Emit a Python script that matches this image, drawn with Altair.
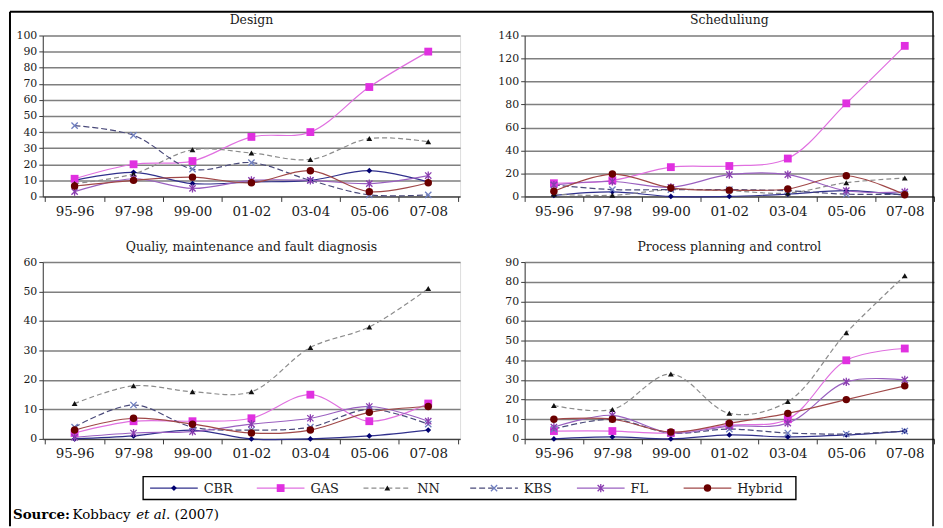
import altair as alt
import pandas as pd

periods = ["95-96", "97-98", "99-00", "01-02", "03-04", "05-06", "07-08"]
series_names = ["CBR", "GAS", "NN", "KBS", "FL", "Hybrid"]

# Design
design_cbr = [10, 15, 8, 9, 10, 16, 9]
design_gas = [11, 20, 22, 37, 40, 68, 90]
design_nn = [8, 14, 29, 27, 23, 36, 34]
design_kbs = [44, 38, 17, 21, 10, 1, 1]
design_fl = [3, 11, 5, 10, 10, 8, 13]
design_hybrid = [6.5, 10, 12, 8.5, 16, 3, 8.5]
design_ticks = [0, 10, 20, 30, 40, 50, 60, 70, 80, 90, 100]

# Scheduling
sched_cbr = [1, 4, 0, 0, 2, 5, 1]
sched_gas = [11.5, 14, 25.5, 26.5, 33, 81, 131]
sched_nn = [2, 1, 6, 5, 3, 12, 16]
sched_kbs = [10, 6, 6, 6, 5, 2, 2]
sched_fl = [10, 13, 8, 19, 19, 5, 4]
sched_hybrid = [4.5, 19.5, 7.5, 5.5, 6.5, 18, 1.5]
sched_ticks = [0, 20, 40, 60, 80, 100, 120, 140]

# Quality, maintenance and fault diagnosis
qual_cbr = [0, 1, 3, 0, 0, 1, 3]
qual_gas = [2, 6, 6, 7, 15, 6, 12]
qual_nn = [12, 18, 16, 16, 31, 38, 51]
qual_kbs = [4, 11.5, 4, 3, 4, 10, 5]
qual_fl = [0.5, 2, 2.5, 5, 7, 11, 6]
qual_hybrid = [3, 7, 5, 2, 3, 9, 11]
qual_ticks = [0, 10, 20, 30, 40, 50, 60]

# Process planning and control
proc_cbr = [0, 1, 0, 2, 1, 2, 4]
proc_gas = [4, 4, 3, 7, 10, 40, 46]
proc_nn = [17, 15, 33, 13, 19, 54, 83]
proc_kbs = [5, 10, 3, 5, 3, 2.5, 4]
proc_fl = [6, 12, 3, 6.5, 8, 29, 30]
proc_hybrid = [10, 10, 3.5, 8, 13, 20, 27]
proc_ticks = [0, 10, 20, 30, 40, 50, 60, 70, 80, 90]

FONT = "DejaVu Serif"
TXT = "#1a1a1a"
AXC = "#3a3a3a"
XPATH = "M-1,-1L1,1M-1,1L1,-1"
STARPATH = "M-1,-1L1,1M-1,1L1,-1M0,-1.3L0,1.3"

STY = {
    "CBR": dict(line="#30308c", marker="#000070", shape="diamond", size=34, filled=True, dash=None),
    "GAS": dict(line="#e070e0", marker="#e030e0", shape="square", size=62, filled=True, dash=None),
    "NN": dict(line="#8c8c8c", marker="#111111", shape="triangle-up", size=34, filled=True, dash=[5, 3]),
    "KBS": dict(line="#4a4a7a", marker="#6f7fc0", shape=XPATH, size=40, filled=False, dash=[6, 3]),
    "FL": dict(line="#9a60c0", marker="#8a3db0", shape=STARPATH, size=40, filled=False, dash=None),
    "Hybrid": dict(line="#a04848", marker="#6a0000", shape="circle", size=56, filled=True, dash=None),
}


def to_df(vals):
    rows = []
    for s in series_names:
        for p, v in zip(periods, vals[s]):
            rows.append({"period": p, "series": s, "value": v})
    return pd.DataFrame(rows)


def series_layers(df, ymax, yticks, pad):
    x = alt.X("period:N", sort=periods, bandPosition=0.5, title=None,
              scale=alt.Scale(type="band", paddingInner=0, paddingOuter=pad),
              axis=alt.Axis(tickBand="extent", labelAngle=0, grid=False, tickSize=5,
                            labelPadding=3, labelFont=FONT, labelFontSize=13.5,
                            labelColor=TXT, domainColor=AXC, tickColor=AXC))
    y = alt.Y("value:Q", title=None,
              scale=alt.Scale(domain=[0, ymax], nice=False),
              axis=alt.Axis(values=yticks, grid=True, gridColor="#7f7f7f", gridWidth=1.5,
                            tickSize=4, labelPadding=2, labelFont=FONT, labelFontSize=11,
                            labelColor=TXT, domainColor=AXC, tickColor=AXC))
    layers = []
    for s in series_names:
        st = STY[s]
        kw = dict(color=st["line"], strokeWidth=1.2, interpolate="catmull-rom")
        if st["dash"]:
            kw["strokeDash"] = st["dash"]
        layers.append(alt.Chart(df).transform_filter(alt.datum.series == s)
                      .mark_line(**kw).encode(x=x, y=y))
    for s in series_names:
        st = STY[s]
        layers.append(alt.Chart(df).transform_filter(alt.datum.series == s)
                      .mark_point(shape=st["shape"], size=st["size"], filled=st["filled"],
                                  color=st["marker"], opacity=1, strokeWidth=1.3)
                      .encode(x=x, y=y))
    return layers


def title(t):
    return alt.Title(t, font=FONT, fontSize=12.5, fontWeight="normal", color=TXT,
                     anchor="middle", frame="group", offset=5, dy=15, baseline="bottom")


LW, RW = 420, 412
TH, BH = 162, 178

p1 = alt.layer(*series_layers(to_df(dict(CBR=design_cbr, GAS=design_gas, NN=design_nn, KBS=design_kbs,
                                          FL=design_fl, Hybrid=design_hybrid)), 100, design_ticks, 0.04)
               ).properties(width=LW, height=TH, title=title("Design"))
p2 = alt.layer(*series_layers(to_df(dict(CBR=sched_cbr, GAS=sched_gas, NN=sched_nn, KBS=sched_kbs,
                                          FL=sched_fl, Hybrid=sched_hybrid)), 140, sched_ticks, 0.0)
               ).properties(width=RW, height=TH, title=title("Scheduliung"))
p3 = alt.layer(*series_layers(to_df(dict(CBR=qual_cbr, GAS=qual_gas, NN=qual_nn, KBS=qual_kbs,
                                          FL=qual_fl, Hybrid=qual_hybrid)), 60, qual_ticks, 0.04)
               ).properties(width=LW, height=BH, title=title("Qualiy, maintenance and fault diagnosis"))
p4 = alt.layer(*series_layers(to_df(dict(CBR=proc_cbr, GAS=proc_gas, NN=proc_nn, KBS=proc_kbs,
                                          FL=proc_fl, Hybrid=proc_hybrid)), 90, proc_ticks, 0.0)
               ).properties(width=RW, height=BH, title=title("Process planning and control"))

# ---- legend, frame and source note (a fifth cell; origin at page x=42, y=505) ----
OX, OY = 42, 505
leg_df = pd.DataFrame({"series": series_names})
one = pd.DataFrame({"k": [0]})
LX0, LX1, LY0, LY1 = 143 - OX, 800 - OX, 477 - OY, 500 - OY
LYC = (LY0 + LY1) / 2
lx = alt.X("series:N", sort=series_names, axis=None,
           scale=alt.Scale(type="point", padding=0, range=[LX0 + 55, LX0 + 592]))

extra = []
extra.append(alt.Chart(one).mark_rect(fill="white", stroke="black", strokeWidth=1.4)
             .encode(x=alt.value(LX0), x2=alt.value(LX1), y=alt.value(LY0), y2=alt.value(LY1)))
for s in series_names:
    st = STY[s]
    kw = dict(color=st["line"], strokeWidth=1.3, xOffset=-48, x2Offset=0)
    if st["dash"]:
        kw["strokeDash"] = st["dash"]
    extra.append(alt.Chart(leg_df).transform_filter(alt.datum.series == s)
                 .mark_rule(**kw).encode(x=lx, x2=alt.X2("series"), y=alt.value(LYC)))
for s in series_names:
    st = STY[s]
    extra.append(alt.Chart(leg_df).transform_filter(alt.datum.series == s)
                 .mark_point(shape=st["shape"], size=st["size"], filled=st["filled"],
                             color=st["marker"], opacity=1, strokeWidth=1.3, xOffset=-24)
                 .encode(x=lx, y=alt.value(LYC)))
extra.append(alt.Chart(leg_df).mark_text(align="left", baseline="middle", dx=6, font=FONT,
                                         fontSize=13, color=TXT)
             .encode(x=lx, y=alt.value(LYC + 0.5), text="series:N"))

# frame lines (page coords: left 9, top 9, right 938, bottom 527)
FX0, FY0, FX1, FY1 = 9 - OX, 9 - OY, 938 - OX, 527 - OY
extra.append(alt.Chart(one).mark_rule(color="black", strokeWidth=2)
             .encode(x=alt.value(FX0), y=alt.value(FY0), y2=alt.value(FY1)))
extra.append(alt.Chart(one).mark_rule(color="black", strokeWidth=2)
             .encode(x=alt.value(FX0), x2=alt.value(FX1), y=alt.value(FY0)))
extra.append(alt.Chart(one).mark_rule(color="black", strokeWidth=1.5)
             .encode(x=alt.value(FX1), y=alt.value(FY0), y2=alt.value(FY1)))

SY = 520 - OY
extra.append(alt.Chart(one).mark_text(text="Source:", fontWeight="bold", align="left",
                                      baseline="alphabetic", font=FONT, fontSize=13.5, color="black")
             .encode(x=alt.value(12 - OX), y=alt.value(SY)))
extra.append(alt.Chart(one).mark_text(text="Kobbacy", align="left", baseline="alphabetic",
                                      font=FONT, fontSize=13.5, color="black")
             .encode(x=alt.value(72 - OX), y=alt.value(SY)))
extra.append(alt.Chart(one).mark_text(text="et al", fontStyle="italic", align="left",
                                      baseline="alphabetic", font=FONT, fontSize=13.5, color="black")
             .encode(x=alt.value(136 - OX), y=alt.value(SY)))
extra.append(alt.Chart(one).mark_text(text=". (2007)", align="left", baseline="alphabetic",
                                      font=FONT, fontSize=13.5, color="black")
             .encode(x=alt.value(166 - OX), y=alt.value(SY)))

legend_cell = alt.layer(*extra).properties(
    width=LW, height=8, view=alt.ViewBackground(stroke="transparent"))

chart = alt.concat(p1, p2, p3, p4, legend_cell, columns=2, bounds="flush",
                   spacing={"row": 66, "column": 65}).properties(padding=0).configure_view(
    stroke="#8a8a8a", strokeWidth=1.2).configure(background="white")

chart.save("out.html", embed_options={"renderer": "svg", "actions": False})
